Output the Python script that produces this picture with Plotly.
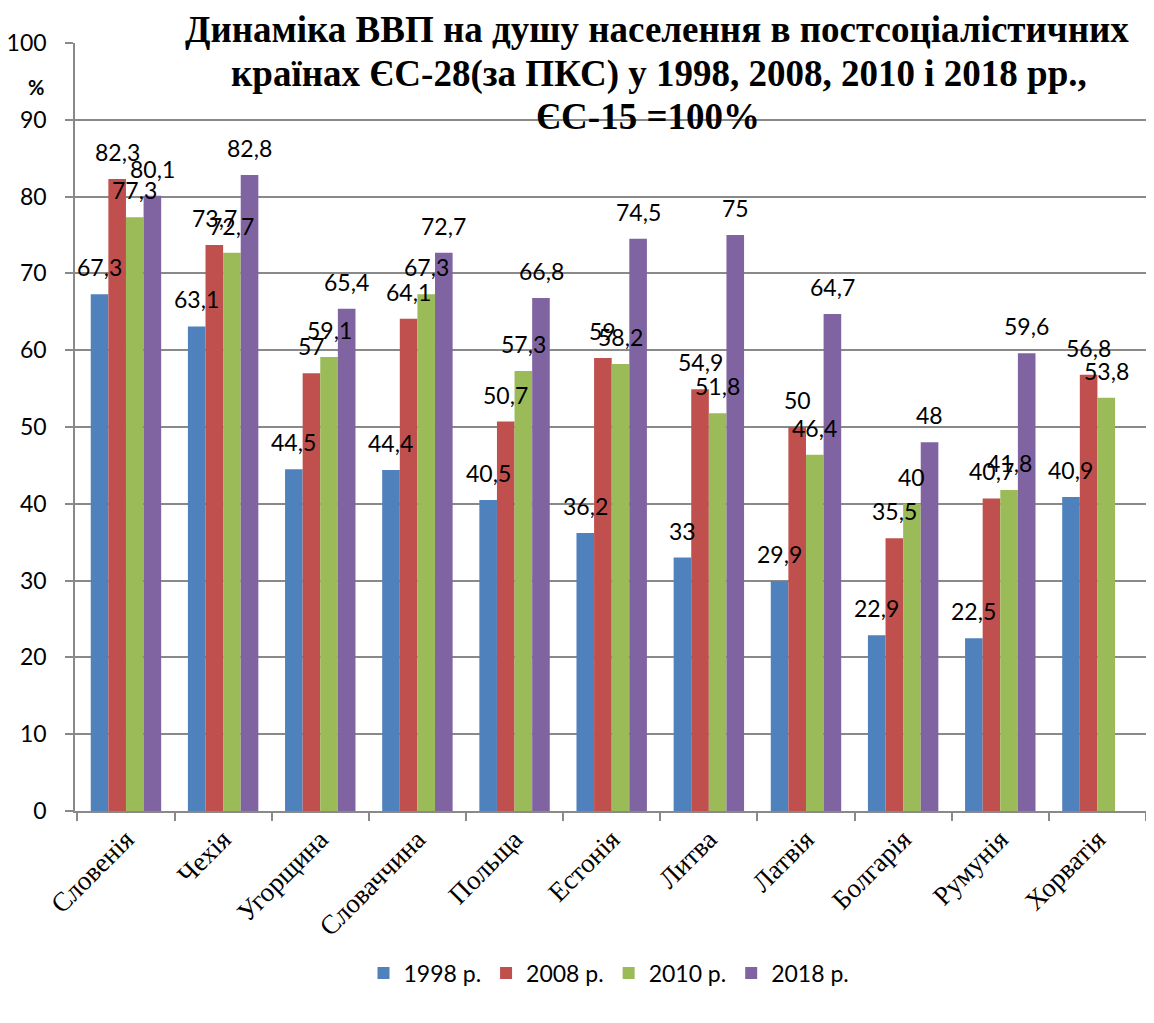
import plotly.graph_objects as go

countries = ["Словенія", "Чехія", "Угорщина", "Словаччина", "Польща", "Естонія",
             "Литва", "Латвія", "Болгарія", "Румунія", "Хорватія"]
series_names = ["1998 р.", "2008 р.", "2010 р.", "2018 р."]
v1998 = [67.3, 63.1, 44.5, 44.4, 40.5, 36.2, 33, 29.9, 22.9, 22.5, 40.9]
v2008 = [82.3, 73.7, 57, 64.1, 50.7, 59, 54.9, 50, 35.5, 40.7, 56.8]
v2010 = [77.3, 72.7, 59.1, 67.3, 57.3, 58.2, 51.8, 46.4, 40, 41.8, 53.8]
v2018 = [80.1, 82.8, 65.4, 72.7, 66.8, 74.5, 75, 64.7, 48, 59.6, None]
title_lines = ["Динаміка ВВП на душу населення в постсоціалістичних",
               "країнах ЄС-28(за ПКС) у 1998, 2008, 2010 і 2018 рр.,",
               "ЄС-15 =100%"]
colors = ["#4F81BD", "#C0504D", "#9BBB59", "#8064A2"]
yticks = [0, 10, 20, 30, 40, 50, 60, 70, 80, 90, 100]

OFF = 8  # page body margin
W, H = 1138, 1007
ML, MR, MT, MB = 67, 0, 35, 204
BARGAP = 0.275
SANS = "Lato"
SERIF = "Liberation Serif, Times New Roman, serif"
GRID = "#898989"

all_series = [v1998, v2008, v2010, v2018]

fig = go.Figure()
for name, vals, col in zip(series_names, all_series, colors):
    fig.add_trace(go.Bar(x=countries, y=vals, name=name, marker_color=col,
                         marker_line_width=0))

plot_w = W - ML - MR
plot_h = H - MT - MB
cat_w = plot_w / len(countries)
bar_w = cat_w * (1 - BARGAP) / len(all_series)


def fmt(v):
    return f"{v:g}".replace(".", ",")


annotations = []
for i, vals in enumerate(all_series):
    xs = (i - (len(all_series) - 1) / 2) * bar_w
    for c, v in zip(countries, vals):
        if v is None:
            continue
        annotations.append(dict(x=c, y=v, xref="x", yref="y", text=fmt(v),
                                showarrow=False, xshift=xs, yshift=27,
                                yanchor="middle", xanchor="center",
                                font=dict(family=SANS, size=23, color="#000000")))


def py(px):
    return (OFF + H - MB - px) / plot_h


def pxx(px):
    return (px - OFF - ML) / plot_w


title_cx = [657, 659, 648]
title_top = [OFF, OFF + 44, OFF + 87]
for line, cx, top in zip(title_lines, title_cx, title_top):
    annotations.append(dict(x=pxx(cx), y=py(top), xref="paper", yref="paper",
                            text="<b>" + line + "</b>", showarrow=False,
                            xanchor="center", yanchor="top", borderpad=0,
                            font=dict(family=SERIF, size=37, color="#000000")))
annotations.append(dict(x=pxx(36), y=py(87), xref="paper", yref="paper",
                        text="<b>%</b>", showarrow=False, xanchor="center",
                        yanchor="middle",
                        font=dict(family=SANS, size=20, color="#000000")))

fig.update_layout(
    width=W, height=H, autosize=False,
    margin=dict(l=ML, r=MR, t=MT, b=MB, pad=0),
    paper_bgcolor="white", plot_bgcolor="white",
    barmode="group", bargap=BARGAP, bargroupgap=0,
    showlegend=True,
    legend=dict(orientation="h", x=pxx(609), xanchor="center", y=py(973),
                yanchor="middle", font=dict(family=SANS, size=23, color="#000000"),
                traceorder="normal", itemwidth=30),
    annotations=annotations,
    font=dict(family=SANS, color="#000000"),
)
fig.update_yaxes(range=[0, 100], tickvals=yticks, ticktext=[str(t) for t in yticks],
                 showgrid=True, gridcolor=GRID, gridwidth=1.5,
                 showline=True, linecolor=GRID, linewidth=1.5,
                 ticks="outside", ticklen=8, tickcolor=GRID, tickwidth=1.5,
                 ticklabelstandoff=14, zeroline=False,
                 tickfont=dict(family=SANS, size=23, color="#000000"))
fig.update_xaxes(showline=True, linecolor=GRID, linewidth=1.5,
                 ticks="outside", ticklen=8, tickcolor=GRID, tickwidth=1.5,
                 tickson="boundaries", tickangle=-45, showgrid=False,
                 tickfont=dict(family=SERIF, size=27, color="#000000"))

fig.write_html("out.html")
